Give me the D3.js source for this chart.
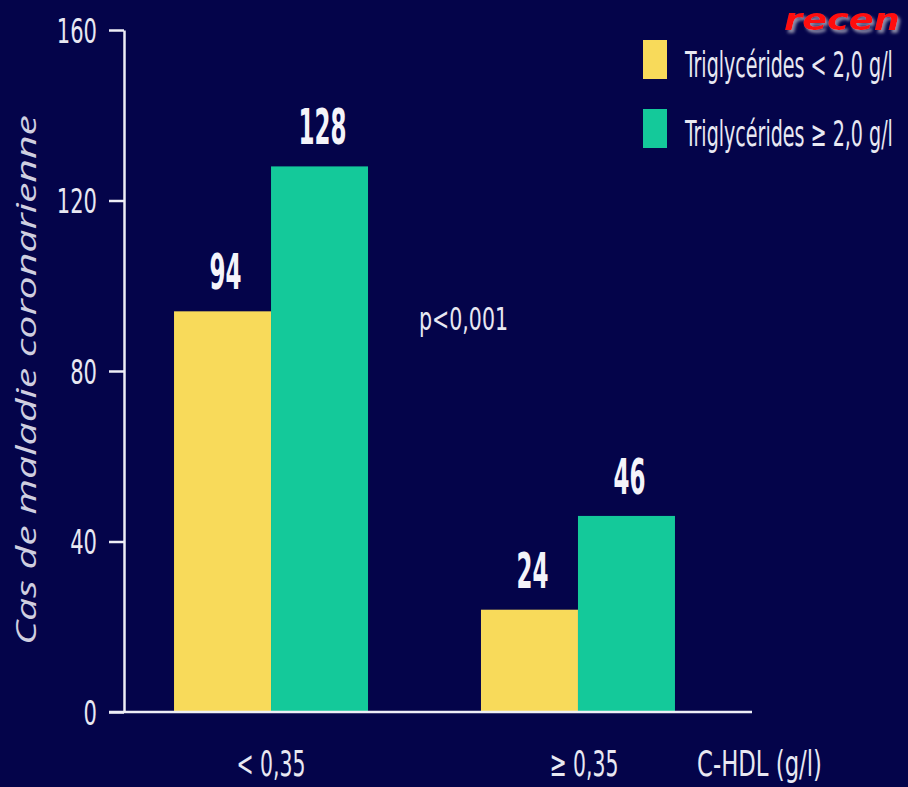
<!DOCTYPE html>
<html>
<head>
<meta charset="utf-8">
<script src="https://cdn.jsdelivr.net/npm/d3@7"></script>
<style>
  html, body { margin: 0; padding: 0; background: #04044a; }
  svg { display: block; }
  .narrow { font-family: "Liberation Sans Narrow", "DejaVu Sans Condensed", "Liberation Sans", sans-serif; }
</style>
</head>
<body>
<svg id="chart" width="908" height="787"></svg>
<script>
// Coronary heart disease cases by HDL-cholesterol and triglyceride level
const categories = ["< 0,35", "≥ 0,35"];
const seriesNames = ["Triglycérides < 2,0 g/l", "Triglycérides ≥ 2,0 g/l"];
const lowTG = [94, 24];
const highTG = [128, 46];
const yTicks = [0, 40, 80, 120, 160];
const seriesColors = ["#f8da5a", "#14c99a"];

const W = 908, H = 787;
const svg = d3.select("#chart");

svg.append("rect").attr("width", W).attr("height", H).attr("fill", "#04044a");

const y = d3.scaleLinear().domain([0, 160]).range([712, 30]);
const x0 = d3.scaleBand().domain(categories).range([124, 725])
  .paddingInner(0.368).paddingOuter(0.163);
const x1 = d3.scaleBand().domain([0, 1]).range([0, x0.bandwidth()]).padding(0);

const axisColor = "#eeeef6";
const textColor = "#e8e8f2";

// squeeze a text horizontally so that it spans the given width
function fitWidth(sel, x, yPos, width) {
  sel.each(function () {
    const natural = this.getComputedTextLength();
    const k = natural > 0 ? width / natural : 1;
    d3.select(this).attr("transform", `translate(${x},${yPos}) scale(${k},1)`);
  });
}

// y axis
const yAxis = svg.append("g")
  .attr("transform", "translate(124,0)")
  .call(d3.axisLeft(y).tickValues(yTicks).tickSize(15).tickPadding(12).tickSizeOuter(0));
yAxis.select(".domain").attr("stroke", axisColor).attr("stroke-width", 2.5);
yAxis.selectAll(".tick line").attr("stroke", axisColor).attr("stroke-width", 2.5);
yAxis.selectAll(".tick text")
  .attr("class", "narrow")
  .attr("fill", textColor)
  .attr("font-size", 34)
  .attr("dy", "0.36em")
  .attr("textLength", d => String(d).length * 13.4)
  .attr("lengthAdjust", "spacingAndGlyphs");

// y axis title
svg.append("text")
  .attr("transform", `translate(36,${380}) rotate(-90)`)
  .attr("text-anchor", "middle")
  .attr("font-family", "Open Sans, DejaVu Sans, sans-serif")
  .attr("font-style", "italic")
  .attr("font-size", 27)
  .attr("fill", "#cfcfe0")
  .attr("textLength", 530)
  .attr("lengthAdjust", "spacingAndGlyphs")
  .text("Cas de maladie coronarienne");

// bars
const rows = categories.map((c, i) => ({ cat: c, vals: [lowTG[i], highTG[i]] }));
const groups = svg.append("g").selectAll("g")
  .data(rows).join("g")
  .attr("transform", d => `translate(${x0(d.cat)},0)`);

groups.selectAll("rect")
  .data(d => d.vals.map((v, k) => ({ v, k })))
  .join("rect")
  .attr("x", d => x1(d.k))
  .attr("width", x1.bandwidth())
  .attr("y", d => y(d.v))
  .attr("height", d => y(0) - y(d.v))
  .attr("fill", d => seriesColors[d.k]);

// value labels
groups.selectAll("text.val")
  .data(d => d.vals.map((v, k) => ({ v, k })))
  .join("text")
  .attr("class", "val narrow")
  .attr("x", d => x1(d.k) + x1.bandwidth() / 2 + 3)
  .attr("y", d => y(d.v) - 22)
  .attr("text-anchor", "middle")
  .attr("font-weight", "bold")
  .attr("font-size", 50)
  .attr("fill", "#f4f4fa")
  .attr("textLength", d => String(d.v).length * 16)
  .attr("lengthAdjust", "spacingAndGlyphs")
  .text(d => d.v);

// x axis baseline
svg.append("line")
  .attr("x1", 109).attr("x2", 752)
  .attr("y1", y(0)).attr("y2", y(0))
  .attr("stroke", axisColor).attr("stroke-width", 2.5);

// category labels
svg.append("g").selectAll("text")
  .data(categories).join("text")
  .attr("class", "narrow")
  .attr("x", (d, i) => x0(d) + x0.bandwidth() / 2 + (i ? 6 : 0))
  .attr("y", 776)
  .attr("text-anchor", "middle")
  .attr("font-size", 36)
  .attr("fill", textColor)
  .attr("textLength", 69)
  .attr("lengthAdjust", "spacingAndGlyphs")
  .text(d => d);

svg.append("text")
  .attr("class", "narrow")
  .attr("x", 697).attr("y", 776)
  .attr("font-size", 36)
  .attr("fill", textColor)
  .attr("textLength", 125)
  .attr("lengthAdjust", "spacingAndGlyphs")
  .text("C-HDL (g/l)");

// significance note
svg.append("text")
  .attr("class", "narrow")
  .attr("x", 419).attr("y", 330)
  .attr("font-size", 32)
  .attr("fill", textColor)
  .attr("textLength", 89)
  .attr("lengthAdjust", "spacingAndGlyphs")
  .text("p<0,001");

// legend
const legend = svg.append("g").selectAll("g")
  .data(seriesNames).join("g")
  .attr("transform", (d, i) => `translate(643,${40 + i * 69})`);
legend.append("rect")
  .attr("width", 24).attr("height", 39)
  .attr("fill", (d, i) => seriesColors[i]);
legend.append("text")
  .attr("class", "narrow")
  .attr("font-size", 36)
  .attr("fill", textColor)
  .text(d => d)
  .call(fitWidth, 42, 37, 208);

// red heading fragment at the top right
const defs = svg.append("defs");
const f = defs.append("filter").attr("id", "shadow").attr("x", "-10%").attr("y", "-50%").attr("width", "130%").attr("height", "200%");
f.append("feDropShadow").attr("dx", 2).attr("dy", 3).attr("stdDeviation", 1.5).attr("flood-color", "#9a9ab0").attr("flood-opacity", 0.9);
svg.append("text")
  .attr("font-family", "DejaVu Sans, sans-serif")
  .attr("font-weight", "bold")
  .attr("font-style", "italic")
  .attr("font-size", 30)
  .attr("fill", "#ff1010")
  .attr("filter", "url(#shadow)")
  .text("recen")
  .call(fitWidth, 784, 30, 116);
</script>
</body>
</html>
